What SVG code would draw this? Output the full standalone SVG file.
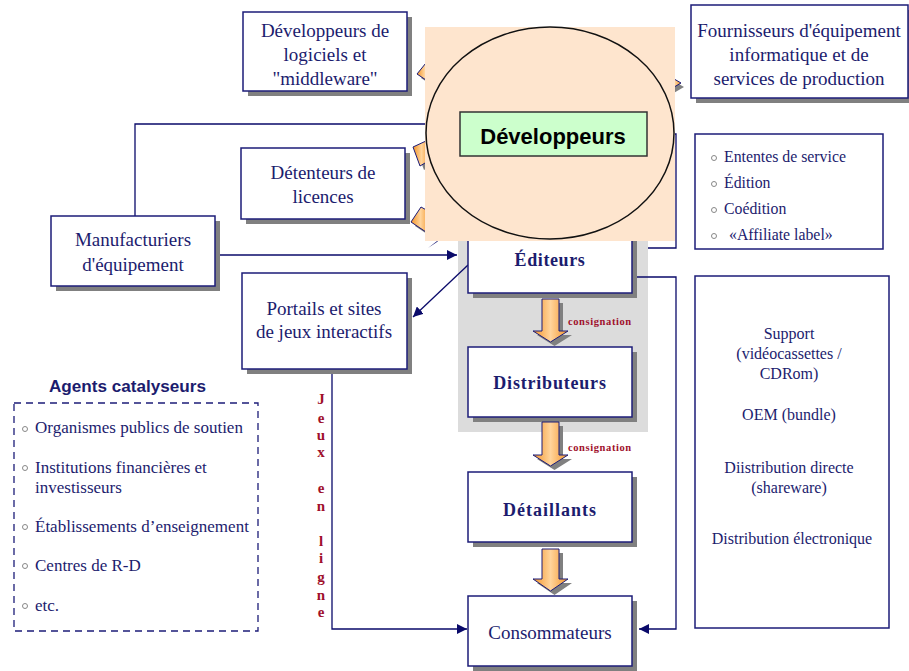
<svg xmlns="http://www.w3.org/2000/svg" width="909" height="671" viewBox="0 0 909 671">
<defs>
<linearGradient id="og" x1="0" y1="0" x2="1" y2="0">
<stop offset="0" stop-color="#f39428"/>
<stop offset="0.5" stop-color="#ffd49c"/>
<stop offset="1" stop-color="#f39428"/>
</linearGradient>
<marker id="ah" viewBox="0 0 10 10" refX="10" refY="5" markerWidth="10" markerHeight="10" markerUnits="userSpaceOnUse" orient="auto">
<path d="M0,0 L10,5 L0,10 z" fill="#0a0a6a"/>
</marker>
</defs>
<style>
.box{fill:#fff;stroke:#1c1c78;stroke-width:1.5}
.sh{fill:#808080}
.t{fill:#1c1c6e;text-anchor:middle}
.tl{fill:#1c1c6e}
.b{font-weight:bold}
.ln{fill:none;stroke:#0a0a6a;stroke-width:1.3}
.blk{fill:url(#og);stroke:#1c1c78;stroke-width:1}
.red{font-weight:bold;fill:#a0102c}
.bul{fill:none;stroke:#888;stroke-width:1}
</style>
<rect width="909" height="671" fill="#fff"/>

<rect id="bg-grey" x="458" y="225" width="190" height="207" fill="#dcdcdc"/>

<g id="connectors">
<path class="ln" d="M135,216 V124 H430"/>
<path class="ln" d="M216,255 H457" marker-end="url(#ah)"/>
<path class="ln" d="M468,265 L413,317" marker-end="url(#ah)"/>
<path class="ln" d="M332,369 V629 H467" marker-end="url(#ah)"/>
<path class="ln" d="M637,277 H676 V629 H639" marker-end="url(#ah)"/>
<path class="ln" d="M668,134 H676 V248 H648"/>
</g>

<g font-family="'Liberation Serif', 'Times New Roman', serif">
<g id="n-devlog">
<rect class="sh" x="248" y="17" width="164" height="79"/>
<rect class="box" x="243" y="12" width="164" height="79"/>
<text class="t" font-size="19"><tspan x="325" y="37">Développeurs de</tspan><tspan x="325" y="61">logiciels et</tspan><tspan x="325" y="85">"middleware"</tspan></text>
</g>

<g id="n-detenteurs">
<rect class="sh" x="246" y="153" width="164" height="71"/>
<rect class="box" x="241" y="148" width="164" height="71"/>
<text class="t" font-size="19"><tspan x="323" y="179">Détenteurs de</tspan><tspan x="323" y="203">licences</tspan></text>
</g>

<g id="n-fournisseurs">
<rect class="sh" x="696" y="10" width="217" height="93"/>
<rect class="box" x="691" y="5" width="217" height="93"/>
<text class="t" font-size="19"><tspan x="799" y="37">Fournisseurs d'équipement</tspan><tspan x="799" y="61">informatique et de</tspan><tspan x="799" y="85">services de production</tspan></text>
</g>

<g id="n-ententes">
<rect class="box" x="695" y="134" width="188" height="115"/>
<circle class="bul" cx="714" cy="158" r="2.5"/>
<circle class="bul" cx="714" cy="184" r="2.5"/>
<circle class="bul" cx="714" cy="210" r="2.5"/>
<circle class="bul" cx="714" cy="236" r="2.5"/>
<text class="tl" font-size="15.8"><tspan x="724" y="162">Ententes de service</tspan><tspan x="724" y="188">Édition</tspan><tspan x="724" y="214">Coédition</tspan><tspan x="729" y="240">«Affiliate label»</tspan></text>
</g>

<g id="n-manufacturiers">
<rect class="sh" x="56" y="221" width="164" height="70"/>
<rect class="box" x="51" y="216" width="164" height="70"/>
<text class="t" font-size="19"><tspan x="133" y="246">Manufacturiers</tspan><tspan x="133" y="271">d'équipement</tspan></text>
</g>

<g id="n-portails">
<rect class="sh" x="247" y="278" width="165" height="96"/>
<rect class="box" x="242" y="273" width="165" height="96"/>
<text class="t" font-size="19"><tspan x="324" y="315">Portails et sites</tspan><tspan x="324" y="338">de jeux interactifs</tspan></text>
</g>

<g id="n-editeurs">
<rect class="sh" x="473" y="231" width="164" height="67"/>
<rect class="box" x="468" y="226" width="164" height="67"/>
<text class="t b" font-size="18" x="550" y="266" letter-spacing="0.6">Éditeurs</text>
</g>

<g id="n-distributeurs">
<rect class="sh" x="473" y="352" width="164" height="70"/>
<rect class="box" x="468" y="347" width="164" height="70"/>
<text class="t b" font-size="18" x="550" y="389" letter-spacing="0.8">Distributeurs</text>
</g>

<g id="n-detaillants">
<rect class="sh" x="473" y="477" width="164" height="70"/>
<rect class="box" x="468" y="472" width="164" height="70"/>
<text class="t b" font-size="18" x="550" y="516" letter-spacing="1">Détaillants</text>
</g>

<g id="n-consommateurs">
<rect class="sh" x="473" y="601" width="164" height="70"/>
<rect class="box" x="468" y="596" width="164" height="70"/>
<text class="t" font-size="19" x="550" y="639">Consommateurs</text>
</g>

<g id="n-canaux">
<rect class="box" x="695" y="276" width="194" height="352"/>
<text class="t" font-size="16"><tspan x="789" y="339">Support</tspan><tspan x="789" y="359">(vidéocassettes /</tspan><tspan x="789" y="379">CDRom)</tspan><tspan x="789" y="420">OEM (bundle)</tspan><tspan x="789" y="473">Diistribution directe</tspan><tspan x="789" y="493">(shareware)</tspan><tspan x="792" y="544">Distribution électronique</tspan></text>
</g>

<g id="n-agents">
<text font-family="'Liberation Sans', Arial, sans-serif" font-weight="bold" font-size="17" fill="#1c1c6e" x="49" y="392" textLength="157" lengthAdjust="spacingAndGlyphs">Agents catalyseurs</text>
<rect x="14" y="403" width="244" height="228" fill="none" stroke="#1c1c78" stroke-width="1.3" stroke-dasharray="7,5"/>
<circle class="bul" cx="25" cy="429" r="2.5"/>
<circle class="bul" cx="25" cy="468" r="2.5"/>
<circle class="bul" cx="25" cy="527" r="2.5"/>
<circle class="bul" cx="25" cy="566" r="2.5"/>
<circle class="bul" cx="25" cy="606" r="2.5"/>
<text class="tl" font-size="17"><tspan x="35" y="433">Organismes publics de soutien</tspan><tspan x="35" y="473">Institutions financières et</tspan><tspan x="35" y="493">investisseurs</tspan><tspan x="35" y="532">Établissements d’enseignement</tspan><tspan x="35" y="571">Centres de R-D</tspan><tspan x="35" y="611">etc.</tspan></text>
</g>

<g id="label-jeux" class="red" font-size="15" text-anchor="middle">
<text x="321" y="404">J</text><text x="321" y="423">e</text><text x="321" y="440">u</text><text x="321" y="457">x</text>
<text x="321" y="493">e</text><text x="321" y="511">n</text>
<text x="321" y="546">l</text><text x="321" y="563">i</text><text x="321" y="582">g</text><text x="321" y="600">n</text><text x="321" y="617">e</text>
</g>

<g id="block-arrows">
<polygon class="sh" points="546,303 563,303 563,335 572,335 554.5,346 537,335 546,335"/>
<polygon class="blk" points="542,299 559,299 559,331 568,331 550.5,342 533,331 542,331"/>
<polygon class="sh" points="546,426 563,426 563,459 572,459 554.5,470 537,459 546,459"/>
<polygon class="blk" points="542,422 559,422 559,455 568,455 550.5,466 533,455 542,455"/>
<polygon class="sh" points="546,553 563,553 563,583 572,583 554.5,595 537,583 546,583"/>
<polygon class="blk" points="542,549 559,549 559,579 568,579 550.5,591 533,579 542,579"/>
<text class="red" font-size="10.5" x="568" y="325" letter-spacing="0.6">consignation</text>
<text class="red" font-size="10.5" x="568" y="451" letter-spacing="0.6">consignation</text>
<polygon class="sh" points="434,63 421,78 436,88"/>
<polygon class="blk" points="430,58 417,74 432,84"/>
<polygon class="sh" points="417,151 430,145 434,164 424,170"/>
<polygon class="blk" points="413,147 426,141 430,160 420,166"/>
<polygon class="sh" points="425,211 415,226 430,236 434,216"/>
<polygon class="blk" points="421,207 411,222 426,232 430,212"/>
<polygon points="428,248 441,238 437,242" fill="#0a0a6a"/>
<polygon class="sh" points="672,80 684,87 672,94"/>
<polygon class="blk" points="669,76 681,83 669,90"/>
</g>
</g>

<g id="n-developpeurs">
<rect x="425" y="27" width="250" height="214" fill="#fee5ce"/>
<ellipse cx="550" cy="133" rx="124" ry="106" fill="#fee5ce" stroke="#111" stroke-width="1.5"/>
<rect x="460" y="112" width="187" height="44" fill="#ccffcc" stroke="#333" stroke-width="1.5"/>
<text font-family="'Liberation Sans', Arial, sans-serif" font-weight="bold" font-size="22" fill="#000" text-anchor="middle" x="553" y="144">Développeurs</text>
</g>
</svg>
